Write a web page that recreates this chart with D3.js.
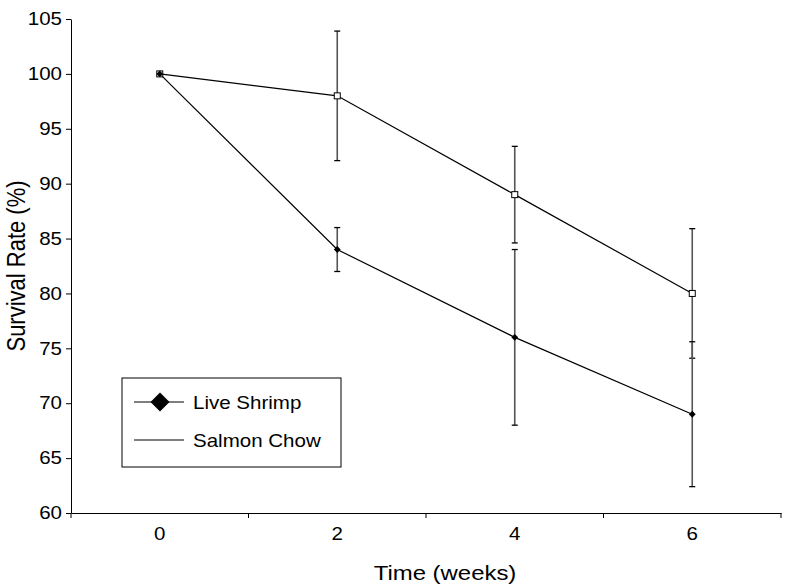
<!DOCTYPE html>
<html>
<head>
<meta charset="utf-8">
<script src="https://cdn.jsdelivr.net/npm/d3@7"></script>
<style>
  body { margin: 0; background: #fff; }
  svg text { font-family: "Liberation Sans", Arial, sans-serif; fill: #000; }
</style>
</head>
<body>
<svg id="chart" width="786" height="585"></svg>
<script>
// data
var weeks = ["0", "2", "4", "6"];
var shrimp = [100, 84, 76, 69];
var shrimpErr = [0, 2, 8, 6.6];
var salmon = [100, 98, 89, 80];
var salmonErr = [0, 5.9, 4.4, 5.9];
var yTicks = [60, 65, 70, 75, 80, 85, 90, 95, 100, 105];

var svg = d3.select("#chart");
var stretch = 1.14; // the reference text is a bit wide

var margin = { top: 19, right: 5, bottom: 72, left: 71 },
  width = 786 - margin.left - margin.right,
  height = 585 - margin.top - margin.bottom;

var g = svg.append("g")
  .attr("transform", "translate(" + margin.left + "," + margin.top + ")");

var x = d3.scaleBand().domain(weeks).range([0, width]);
var y = d3.scaleLinear().domain([60, 105]).range([height, 0]);

var cx = function(i) { return x(weeks[i]) + x.bandwidth() / 2; };

// y axis
var yAxis = g.append("g")
  .call(d3.axisLeft(y).tickValues(yTicks).tickSize(5).tickPadding(4).tickSizeOuter(0));
yAxis.select(".domain").attr("stroke", "#000");
yAxis.selectAll("text")
  .style("font-size", "18px")
  .attr("x", null)
  .attr("transform", "translate(-9,0) scale(" + stretch + ",1)");

// x axis, ticks between categories
var xAxis = g.append("g")
  .attr("transform", "translate(0," + height + ")")
  .call(d3.axisBottom(x).tickSize(0).tickPadding(14).tickSizeOuter(0));
xAxis.select(".domain").attr("stroke", "#000");
xAxis.selectAll("text")
  .style("font-size", "18px")
  .attr("transform", "scale(" + stretch + ",1)");
xAxis.selectAll(".sep")
  .data(d3.range(weeks.length + 1))
  .enter().append("line")
  .attr("class", "sep")
  .attr("x1", function(i) { return i * x.step(); })
  .attr("x2", function(i) { return i * x.step(); })
  .attr("y1", 0).attr("y2", 5)
  .attr("stroke", "#000");

// titles
svg.append("text")
  .attr("transform", "translate(445,580) scale(" + stretch + ",1)")
  .attr("text-anchor", "middle")
  .style("font-size", "21px")
  .text("Time (weeks)");

svg.append("text")
  .attr("transform", "translate(25," + (margin.top + height / 2) + ") rotate(-90) scale(1," + stretch + ")")
  .attr("text-anchor", "middle")
  .style("font-size", "22px")
  .text("Survival Rate (%)");

// error bars
function errorBars(vals, errs) {
  var eb = g.append("g");
  vals.forEach(function(v, i) {
    if (!errs[i]) return;
    eb.append("line")
      .attr("x1", cx(i)).attr("x2", cx(i))
      .attr("y1", y(v + errs[i])).attr("y2", y(v - errs[i]))
      .attr("stroke", "#555").attr("stroke-width", 1.6);
    [v + errs[i], v - errs[i]].forEach(function(e) {
      eb.append("line")
        .attr("x1", cx(i) - 3).attr("x2", cx(i) + 3)
        .attr("y1", y(e)).attr("y2", y(e))
        .attr("stroke", "#000").attr("stroke-width", 1.3);
    });
  });
}
errorBars(salmon, salmonErr);
errorBars(shrimp, shrimpErr);

var line = d3.line()
  .x(function(d, i) { return cx(i); })
  .y(function(d) { return y(d); });

g.append("path").datum(salmon).attr("d", line)
  .attr("fill", "none").attr("stroke", "#000").attr("stroke-width", 1.2);
g.append("path").datum(shrimp).attr("d", line)
  .attr("fill", "none").attr("stroke", "#000").attr("stroke-width", 1.2);

// markers
g.selectAll(".sq")
  .data(salmon)
  .enter().append("rect")
  .attr("class", "sq")
  .attr("x", function(d, i) { return cx(i) - 3; })
  .attr("y", function(d) { return y(d) - 3; })
  .attr("width", 6).attr("height", 6)
  .attr("fill", "#fff").attr("stroke", "#000").attr("stroke-width", 1);

var diamond = d3.symbol().type(d3.symbolDiamond2).size(30);
g.selectAll(".dm")
  .data(shrimp)
  .enter().append("path")
  .attr("class", "dm")
  .attr("transform", function(d, i) { return "translate(" + cx(i) + "," + y(d) + ")"; })
  .attr("d", diamond)
  .attr("fill", "#000");

// legend
var leg = svg.append("g").attr("transform", "translate(122,378)");
leg.append("rect")
  .attr("width", 219).attr("height", 89)
  .attr("fill", "#fff").attr("stroke", "#000").attr("stroke-width", 1);
leg.append("line").attr("x1", 12).attr("x2", 62).attr("y1", 24).attr("y2", 24)
  .attr("stroke", "#000").attr("stroke-width", 1.2);
leg.append("path")
  .attr("transform", "translate(38,24)")
  .attr("d", d3.symbol().type(d3.symbolDiamond2).size(230))
  .attr("fill", "#000");
leg.append("text")
  .attr("transform", "translate(71,31) scale(" + stretch + ",1)")
  .style("font-size", "18px").text("Live Shrimp");
leg.append("line").attr("x1", 12).attr("x2", 62).attr("y1", 62).attr("y2", 62)
  .attr("stroke", "#000").attr("stroke-width", 1.2);
leg.append("text")
  .attr("transform", "translate(71,69) scale(" + stretch + ",1)")
  .style("font-size", "18px").text("Salmon Chow");
</script>
</body>
</html>
